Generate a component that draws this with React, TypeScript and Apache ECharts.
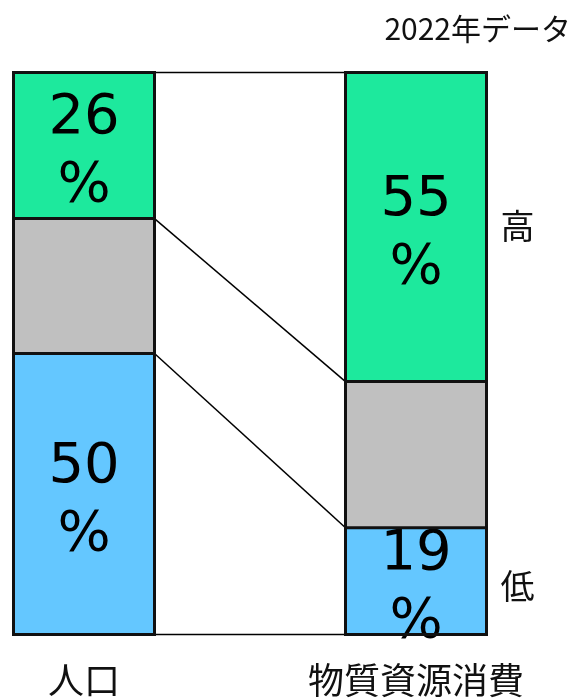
import React, { useEffect, useRef } from "react";
import * as echarts from "echarts";

// Shares (%) for each column, listed from top segment to bottom segment
const categories = ["人口", "物質資源消費"];
const highShare = [26, 55];
const middleShare = [24, 26];
const lowShare = [50, 19];
const levelLabels = ["高", "低"];
const noteText = "2022年データ";

const BAR_WIDTH = 141;
const colors = { high: "#1de99d", middle: "#c0c0c0", low: "#64c7ff" };

// Cumulative boundaries per column: [column, bottom of middle, bottom of high, top]
const frames = categories.map((_, i) => [
  i,
  lowShare[i],
  lowShare[i] + middleShare[i],
  lowShare[i] + middleShare[i] + highShare[i],
]);

// Connector lines between the columns: [x dummy, left value, right value]
const connectors = [0, 1, 2, 3].map((k) => [
  0,
  [0, frames[0][1], frames[0][2], frames[0][3]][k],
  [0, frames[1][1], frames[1][2], frames[1][3]][k],
]);

export default function App() {
  const ref = useRef<HTMLDivElement>(null);

  useEffect(() => {
    if (!ref.current) return;
    const chart = echarts.init(ref.current, null, { renderer: "svg" });

    const pctLabel = {
      show: true,
      position: "inside",
      formatter: (p: any) => `${p.value}\n%`,
      fontSize: 56,
      lineHeight: 68,
      fontFamily: "DejaVu Sans",
      color: "#000",
      offset: [0, 2],
    };

    const barBase = {
      type: "bar",
      stack: "share",
      barWidth: BAR_WIDTH,
      clip: false,
      z: 2,
    };

    chart.setOption({
      animation: false,
      grid: { left: 84, right: 168, top: 72.5, bottom: 63.5 },
      xAxis: {
        type: "category",
        data: categories,
        boundaryGap: false,
        axisLine: { show: false },
        axisTick: { show: false },
        axisLabel: {
          fontSize: 36,
          lineHeight: 36,
          fontFamily: "Noto Sans CJK JP",
          color: "#111",
          margin: 25,
          interval: 0,
        },
      },
      yAxis: { type: "value", min: 0, max: 100, show: false },
      series: [
        {
          type: "custom",
          clip: false,
          silent: true,
          z: 1,
          encode: { x: 0, y: 1 },
          data: connectors,
          renderItem: (_params: any, api: any) => {
            const a = api.coord([0, api.value(1)]);
            const b = api.coord([1, api.value(2)]);
            return {
              type: "line",
              shape: { x1: a[0] + BAR_WIDTH / 2, y1: a[1], x2: b[0] - BAR_WIDTH / 2, y2: b[1] },
              style: { stroke: "#000", lineWidth: 1.5 },
            };
          },
        },
        { ...barBase, name: "low", data: lowShare, itemStyle: { color: colors.low }, label: pctLabel },
        { ...barBase, name: "middle", data: middleShare, itemStyle: { color: colors.middle } },
        { ...barBase, name: "high", data: highShare, itemStyle: { color: colors.high }, label: pctLabel },
        {
          // column outlines and segment dividers
          type: "custom",
          clip: false,
          silent: true,
          z: 3,
          encode: { x: 0, y: 3 },
          data: frames,
          renderItem: (_params: any, api: any) => {
            const col = api.value(0);
            const bottom = api.coord([col, 0]);
            const top = api.coord([col, api.value(3)]);
            const d1 = api.coord([col, api.value(1)]);
            const d2 = api.coord([col, api.value(2)]);
            const x0 = bottom[0] - BAR_WIDTH / 2;
            const x1 = bottom[0] + BAR_WIDTH / 2;
            const stroke = { stroke: "#111", lineWidth: 3 };
            return {
              type: "group",
              children: [
                {
                  type: "rect",
                  shape: { x: x0, y: top[1], width: BAR_WIDTH, height: bottom[1] - top[1] },
                  style: { ...stroke, fill: "none" },
                },
                { type: "line", shape: { x1: x0, y1: d1[1], x2: x1, y2: d1[1] }, style: stroke },
                { type: "line", shape: { x1: x0, y1: d2[1], x2: x1, y2: d2[1] }, style: stroke },
              ],
            };
          },
        },
      ],
    });

    // Side markers beside the right column, next to its top and bottom segments
    const highMid = frames[1][2] + highShare[1] / 2;
    const lowMid = lowShare[1] / 2;
    const pHigh = chart.convertToPixel({ gridIndex: 0 }, [1, highMid]) as number[];
    const pLow = chart.convertToPixel({ gridIndex: 0 }, [1, lowMid]) as number[];
    const sideX = pHigh[0] + BAR_WIDTH / 2 + 31;

    const textStyle = { fontFamily: "Noto Sans CJK JP", fill: "#111", textVerticalAlign: "middle" };
    chart.setOption({
      graphic: [
        { type: "text", x: sideX, y: pHigh[1] - 3, style: { ...textStyle, text: levelLabels[0], fontSize: 34, textAlign: "center" } },
        { type: "text", x: sideX, y: pLow[1] + 3, style: { ...textStyle, text: levelLabels[1], fontSize: 34, textAlign: "center" } },
        { type: "text", x: 571, y: 27, style: { ...textStyle, text: noteText, fontSize: 30, textAlign: "right" } },
      ],
    });

    return () => chart.dispose();
  }, []);

  return <div ref={ref} style={{ position: "fixed", left: 0, top: 0, width: 584, height: 698 }} />;
}
